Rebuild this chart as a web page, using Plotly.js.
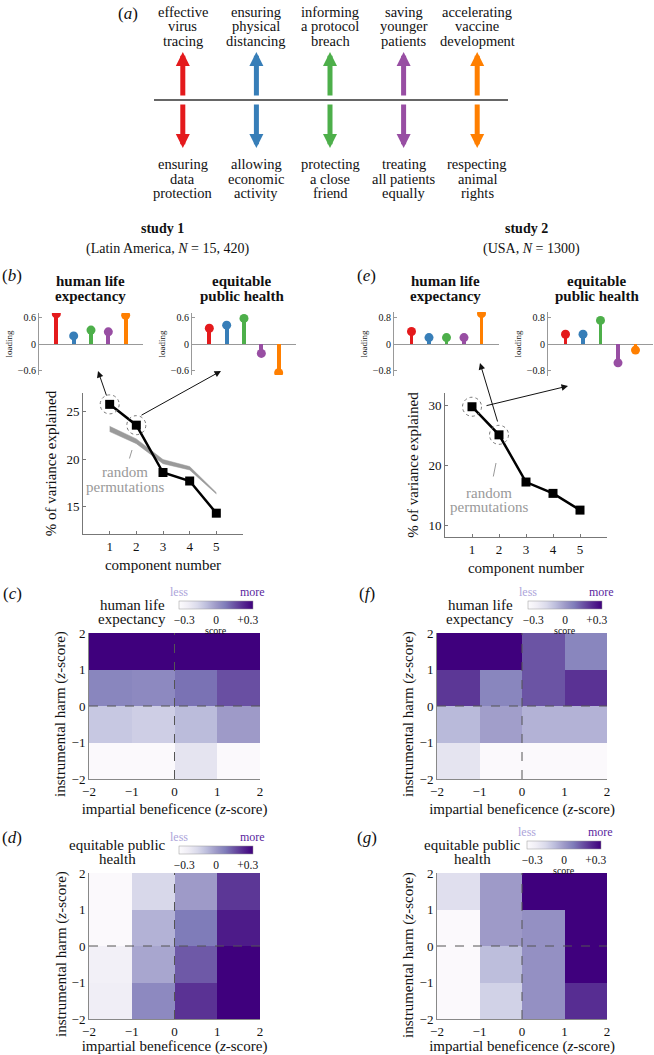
<!DOCTYPE html>
<html>
<head>
<meta charset="utf-8">
<script src="https://cdn.plot.ly/plotly-3.0.1.min.js"></script>
<style>
  html, body { margin: 0; padding: 0; background: #fff; }
  #chart { width: 654px; height: 1055px; }
</style>
</head>
<body>
<div id="chart"></div>
<script>
/*
 * ~~~~~~~~~~~~~~~~~~~~~~~~~~~~~~~~~~~~~~~~~~~~~~~~
 * Data
 * ~~~~~~~~~~~~~~~~~~~~~~~~~~~~~~~~~~~~~~~~~~~~~~~~
 */

// panel (a): the five dilemmas
const topLabels = ['effective\nvirus\ntracing', 'ensuring\nphysical\ndistancing', 'informing\na protocol\nbreach', 'saving\nyounger\npatients', 'accelerating\nvaccine\ndevelopment'];
const bottomLabels = ['ensuring\ndata\nprotection', 'allowing\neconomic\nactivity', 'protecting\na close\nfriend', 'treating\nall patients\nequally', 'respecting\nanimal\nrights'];
const dilemmaColors = ['#e41a1c', '#377eb8', '#4daf4a', '#984ea3', '#ff7f00'];
const dilemmas = [1, 2, 3, 4, 5];

// loadings of the two components
const study1Life = [0.67, 0.18, 0.31, 0.27, 0.64];
const study1Equity = [0.35, 0.42, 0.57, -0.21, -0.64];
const study2Life = [0.37, 0.19, 0.19, 0.19, 0.90];
const study2Equity = [0.29, 0.29, 0.70, -0.56, -0.18];

// scree plots
const components = [1, 2, 3, 4, 5];
const study1Variance = [25.8, 23.6, 18.6, 17.7, 14.3];
const study1RandomLow = [22.92, 21.65, 19.53, 18.87, 16.33];
const study1RandomHigh = [23.48, 22.15, 19.97, 19.23, 16.47];
const study2Variance = [29.8, 25.1, 17.2, 15.3, 12.5];

// score maps, rows from z = -2..-1 up to 1..2
const zBins = [-1.5, -0.5, 0.5, 1.5];
const study1LifeScore = [
  [-0.34, -0.34, -0.22, -0.34],
  [-0.12, -0.14, -0.085, 0.0],
  [0.06, 0.05, 0.11, 0.18],
  [0.35, 0.35, 0.35, 0.35],
];
const study2LifeScore = [
  [-0.22, -0.34, -0.34, -0.34],
  [-0.08, -0.01, -0.06, -0.06],
  [0.23, 0.06, 0.17, 0.24],
  [0.35, 0.35, 0.17, 0.06],
];
const study1EquityScore = [
  [-0.27, 0.05, 0.24, 0.35],
  [-0.28, -0.03, 0.16, 0.35],
  [-0.34, -0.06, 0.09, 0.29],
  [-0.34, -0.17, 0.0, 0.23],
];
const study2EquityScore = [
  [-0.34, -0.15, 0.03, 0.25],
  [-0.34, -0.09, 0.03, 0.35],
  [-0.34, 0.0, 0.03, 0.35],
  [-0.2, 0.0, 0.35, 0.35],
];

/*
 * ~~~~~~~~~~~~~~~~~~~~~~~~~~~~~~~~~~~~~~~~~~~~~~~~
 * Helpers
 * ~~~~~~~~~~~~~~~~~~~~~~~~~~~~~~~~~~~~~~~~~~~~~~~~
 */

const W = 654, H = 1055;
const SERIF = "'Liberation Serif', 'DejaVu Serif', serif";
const px = x => x / W;
const py = y => 1 - y / H;
const xDom = (a, b) => [a / W, b / W];
const yDom = (top, bottom) => [1 - bottom / H, 1 - top / H];

const purples = ['#fcfbfd', '#efedf5', '#dadaeb', '#bcbddc', '#9e9ac8', '#807dba', '#6a51a3', '#54278f', '#3f007d']
  .map((c, i, a) => [i / (a.length - 1), c]);

const text = (t, x, y, opts = {}) => ({
  text: t, x: px(x), y: py(y), xref: 'paper', yref: 'paper',
  showarrow: false, xanchor: 'center', yanchor: 'middle', textangle: opts.angle || 0,
  font: {family: SERIF, size: 14, color: '#111', ...(opts.font || {})},
});

const pointer = (x0, y0, x1, y1, color, width, head) => ({
  text: '', x: px(x1), y: py(y1), xref: 'paper', yref: 'paper',
  ax: x0 - x1, ay: y0 - y1, showarrow: true,
  arrowhead: head ? 2 : 0, arrowsize: 1.3, arrowwidth: width, arrowcolor: color,
});

/*
 * ~~~~~~~~~~~~~~~~~~~~~~~~~~~~~~~~~~~~~~~~~~~~~~~~
 * Traces
 * ~~~~~~~~~~~~~~~~~~~~~~~~~~~~~~~~~~~~~~~~~~~~~~~~
 */

const loadingTraces = (values, n) => [{
  type: 'bar', x: dilemmas, y: values, width: 0.22,
  marker: {color: dilemmaColors},
  xaxis: 'x' + n, yaxis: 'y' + n,
}, {
  type: 'scatter', mode: 'markers', x: dilemmas, y: values,
  marker: {color: dilemmaColors, size: 9},
  xaxis: 'x' + n, yaxis: 'y' + n,
}];

const screeTrace = (values, n) => ({
  type: 'scatter', mode: 'lines+markers', x: components, y: values,
  line: {color: '#000', width: 2.5},
  marker: {symbol: 'square', size: 9, color: '#000'},
  xaxis: 'x' + n, yaxis: 'y' + n,
});

const colorbar = (cx, top) => ({
  orientation: 'h', x: px(cx), xanchor: 'center', y: py(top), yanchor: 'top',
  len: 74, lenmode: 'pixels', thickness: 8, thicknessmode: 'pixels',
  xpad: 0, ypad: 0, ticks: '',
  tickvals: [-0.3, 0, 0.3], ticktext: ['\u22120.3', '0', '+0.3'],
  tickfont: {family: SERIF, size: 11.5, color: '#111'},
  outlinewidth: 0.5, outlinecolor: '#999',
});

const heatTrace = (z, n, cb) => ({
  type: 'heatmap', x: zBins, y: zBins, z: z,
  zmin: -0.35, zmax: 0.35, colorscale: purples,
  colorbar: cb,
  xaxis: 'x' + n, yaxis: 'y' + n,
});

const data = [
  ...loadingTraces(study1Life, 2),
  ...loadingTraces(study1Equity, 3),
  ...loadingTraces(study2Life, 4),
  ...loadingTraces(study2Equity, 5),
  {
    type: 'scatter', mode: 'lines', x: components, y: study1RandomLow,
    line: {color: '#9a9a9a', width: 0.5}, xaxis: 'x6', yaxis: 'y6',
  },
  {
    type: 'scatter', mode: 'lines', x: components, y: study1RandomHigh, fill: 'tonexty',
    fillcolor: '#9a9a9a', line: {color: '#9a9a9a', width: 0.5}, xaxis: 'x6', yaxis: 'y6',
  },
  screeTrace(study1Variance, 6),
  screeTrace(study2Variance, 7),
  heatTrace(study1LifeScore, 8, colorbar(216, 601)),
  heatTrace(study2LifeScore, 9, colorbar(565, 601)),
  heatTrace(study1EquityScore, 10, colorbar(216, 846)),
  heatTrace(study2EquityScore, 11, colorbar(564, 841)),
];

/*
 * ~~~~~~~~~~~~~~~~~~~~~~~~~~~~~~~~~~~~~~~~~~~~~~~~
 * Axes
 * ~~~~~~~~~~~~~~~~~~~~~~~~~~~~~~~~~~~~~~~~~~~~~~~~
 */

const hiddenX = dom => ({domain: dom, range: [0, 6], visible: false, fixedrange: true});

const loadingY = (dom, tick, range, n) => ({
  domain: dom, range: range, anchor: 'x' + n,
  showline: true, linecolor: '#999', linewidth: 1,
  ticks: 'inside', ticklen: 3, tickcolor: '#999',
  tickvals: [-tick, 0, tick], ticktext: ['\u2212' + tick, '0', String(tick)],
  tickfont: {family: SERIF, size: 10, color: '#111'},
  zeroline: true, zerolinecolor: '#999', zerolinewidth: 1, showgrid: false,
  title: {text: 'loading', font: {family: SERIF, size: 9, color: '#111'}, standoff: 3},
});

const screeX = (dom, n) => ({
  domain: dom, range: [0, 6], anchor: 'y' + n,
  showline: true, linecolor: '#777', ticks: 'inside', ticklen: 3, tickcolor: '#777',
  tickvals: components, showgrid: false, zeroline: false,
  tickfont: {family: SERIF, size: 13, color: '#111'},
  title: {text: 'component number', font: {family: SERIF, size: 15, color: '#111'}, standoff: 6},
});

const screeY = (dom, range, ticks, n) => ({
  domain: dom, range: range, anchor: 'x' + n,
  showline: true, linecolor: '#777', ticks: 'inside', ticklen: 3, tickcolor: '#777',
  tickvals: ticks, showgrid: false, zeroline: false,
  tickfont: {family: SERIF, size: 13, color: '#111'},
  title: {text: '% of variance explained', font: {family: SERIF, size: 15, color: '#111'}, standoff: 6},
});

const heatX = (dom, n) => ({
  domain: dom, range: [-2, 2], anchor: 'y' + n, dtick: 1,
  showline: true, linecolor: '#888', ticks: '', showgrid: false, zeroline: false,
  tickfont: {family: SERIF, size: 13, color: '#111'},
  title: {text: 'impartial beneficence (<i>z</i>-score)', font: {family: SERIF, size: 15, color: '#111'}, standoff: 5},
});

const heatY = (dom, n) => ({
  domain: dom, range: [-2, 2], anchor: 'x' + n, dtick: 1,
  showline: true, linecolor: '#888', ticks: '', showgrid: false, zeroline: false,
  tickfont: {family: SERIF, size: 13, color: '#111'},
});

/*
 * ~~~~~~~~~~~~~~~~~~~~~~~~~~~~~~~~~~~~~~~~~~~~~~~~
 * Annotations & shapes
 * ~~~~~~~~~~~~~~~~~~~~~~~~~~~~~~~~~~~~~~~~~~~~~~~~
 */

const annotations = [];
const shapes = [];

// panel (a) arrows and labels
dilemmas.forEach((d, i) => {
  const arrow = (head, tail) => ({
    text: '', x: d, y: head, ax: d, ay: tail, xref: 'x', yref: 'y', axref: 'x', ayref: 'y',
    showarrow: true, arrowhead: 2, arrowsize: 0.56, arrowwidth: 5, arrowcolor: dilemmaColors[i],
  });
  annotations.push(arrow(1, 0.06), arrow(-1, -0.06));
  topLabels[i].split('\n').forEach((line, k) => {
    annotations.push({
      text: line, x: d, xref: 'x', y: py(12 + k * 14.3), yref: 'paper', showarrow: false,
      xanchor: 'center', yanchor: 'middle', font: {family: SERIF, size: 14.5, color: '#111'},
    });
  });
  bottomLabels[i].split('\n').forEach((line, k) => {
    annotations.push({
      text: line, x: d, xref: 'x', y: py(164 + k * 14.5), yref: 'paper', showarrow: false,
      xanchor: 'center', yanchor: 'middle', font: {family: SERIF, size: 14.5, color: '#111'},
    });
  });
});
shapes.push({type: 'line', xref: 'paper', yref: 'y', x0: px(154), x1: px(508), y0: 0, y1: 0,
  line: {color: '#333', width: 1.5}});

const panelFont = {font: {size: 17}};
annotations.push(
  text('(<i>a</i>)', 128, 13, panelFont),
  text('(<i>b</i>)', 12, 275, panelFont),
  text('(<i>e</i>)', 366, 275, panelFont),
  text('(<i>c</i>)', 12, 593, panelFont),
  text('(<i>f</i>)', 367, 593, panelFont),
  text('(<i>d</i>)', 12, 837, panelFont),
  text('(<i>g</i>)', 367, 837, panelFont),

  text('<b>study 1</b>', 162, 228),
  text('(Latin America, <i>N</i> = 15, 420)', 167, 249),
  text('<b>study 2</b>', 526, 228),
  text('(USA, <i>N</i> = 1300)', 531, 249),
);

const bold15 = {font: {size: 15}};
[[90, 'human life', 'expectancy'], [242, 'equitable', 'public health'],
 [445, 'human life', 'expectancy'], [597, 'equitable', 'public health']].forEach(([x, a, b]) => {
  annotations.push(text('<b>' + a + '</b>', x, 281, bold15), text('<b>' + b + '</b>', x, 296, bold15));
});

// random permutations labels
const grey = {font: {size: 15, color: '#999'}};
annotations.push(
  text('random', 125, 472, grey), text('permutations', 125, 487, grey),
  text('random', 489, 493, grey), text('permutations', 489, 507, grey),
  pointer(129, 460, 132, 450, '#999', 1, false),
  pointer(493, 478, 496, 463, '#999', 1, false),
);

// arrows from the components to their loadings
annotations.push(
  pointer(107, 397, 98, 371, '#111', 1, true),
  pointer(140, 416, 221, 371, '#111', 1, true),
  pointer(485, 406, 568, 386, '#111', 1, true),
  pointer(498, 423, 480, 363, '#111', 1, true),
);

// dotted circles around the first two components
[[6, study1Variance], [7, study2Variance]].forEach(([n, values]) => {
  [0, 1].forEach(k => {
    shapes.push({
      type: 'circle', xref: 'x' + n, yref: 'y' + n,
      xsizemode: 'pixel', ysizemode: 'pixel',
      xanchor: components[k], yanchor: values[k],
      x0: -9.5, x1: 9.5, y0: -9.5, y1: 9.5,
      line: {color: '#777', width: 1, dash: 'dot'},
    });
  });
});

// y titles of the score maps
const harmTitle = 'instrumental harm (<i>z</i>-score)';
annotations.push(
  text(harmTitle, 60, 714, {angle: -90, font: {size: 15}}),
  text(harmTitle, 408, 714, {angle: -90, font: {size: 15}}),
  text(harmTitle, 61, 954, {angle: -90, font: {size: 15}}),
  text(harmTitle, 408, 955, {angle: -90, font: {size: 15}}),
);

// colorbar captions
const cbCaption = (cx, barTop, titleA, titleB, titleX, titleY, withScore) => {
  annotations.push(
    text('less', cx - 37, barTop - 9, {font: {size: 12, color: '#ada5da'}}),
    text('more', cx + 36, barTop - 9, {font: {size: 12, color: '#5a1f9e'}}),
    text(titleA, titleX, titleY, {font: {size: 15}}),
    text(titleB, titleX, titleY + 13.5, {font: {size: 15}}),
  );
  if (withScore) annotations.push(text('score', cx, barTop + 29, {font: {size: 10}}));
};
cbCaption(216, 601, 'human life', 'expectancy', 132, 605, true);
cbCaption(565, 601, 'human life', 'expectancy', 480, 605, true);
cbCaption(216, 846, 'equitable public', 'health', 117, 845, false);
cbCaption(564, 841, 'equitable public', 'health', 472, 845, true);

// dashed zero lines on the score maps
[8, 9, 10, 11].forEach(n => {
  const dash = {color: '#555', width: 1, dash: 'dash'};
  shapes.push(
    {type: 'line', xref: 'x' + n, yref: 'y' + n + ' domain', x0: 0, x1: 0, y0: 0, y1: 1, line: dash},
    {type: 'line', xref: 'x' + n + ' domain', yref: 'y' + n, x0: 0, x1: 1, y0: 0, y1: 0, line: dash},
  );
});

/*
 * ~~~~~~~~~~~~~~~~~~~~~~~~~~~~~~~~~~~~~~~~~~~~~~~~
 * Layout
 * ~~~~~~~~~~~~~~~~~~~~~~~~~~~~~~~~~~~~~~~~~~~~~~~~
 */

const layout = {
  width: W, height: H,
  margin: {l: 0, r: 0, t: 0, b: 0},
  paper_bgcolor: '#fff', plot_bgcolor: 'rgba(0,0,0,0)',
  showlegend: false, hovermode: false,
  font: {family: SERIF, color: '#111'},
  bargap: 0,

  xaxis: {domain: xDom(146, 514), range: [0.5, 5.5], visible: false},
  yaxis: {domain: yDom(52, 148), range: [-1, 1], visible: false},

  xaxis2: hiddenX(xDom(39, 143)),
  yaxis2: loadingY(yDom(313, 375), 0.6, [-0.69, 0.69], 2),
  xaxis3: hiddenX(xDom(192, 296)),
  yaxis3: loadingY(yDom(313, 375), 0.6, [-0.69, 0.69], 3),
  xaxis4: hiddenX(xDom(394, 499)),
  yaxis4: loadingY(yDom(312, 376), 0.8, [-0.95, 0.95], 4),
  xaxis5: hiddenX(xDom(548, 653)),
  yaxis5: loadingY(yDom(312, 376), 0.8, [-0.95, 0.95], 5),

  xaxis6: screeX(xDom(83, 243), 6),
  yaxis6: screeY(yDom(393, 534), [12.1, 27], [15, 20, 25], 6),
  xaxis7: screeX(xDom(445, 607), 7),
  yaxis7: screeY(yDom(393, 537), [8, 32.1], [10, 20, 30], 7),

  xaxis8: heatX(xDom(89, 260), 8),
  yaxis8: heatY(yDom(633, 779), 8),
  xaxis9: heatX(xDom(437, 607), 9),
  yaxis9: heatY(yDom(633, 779), 9),
  xaxis10: heatX(xDom(89, 260), 10),
  yaxis10: heatY(yDom(873, 1019), 10),
  xaxis11: heatX(xDom(437, 607), 11),
  yaxis11: heatY(yDom(873, 1019), 11),

  annotations: annotations,
  shapes: shapes,
};

Plotly.newPlot('chart', data, layout, {staticPlot: true, displayModeBar: false});
</script>
</body>
</html>
